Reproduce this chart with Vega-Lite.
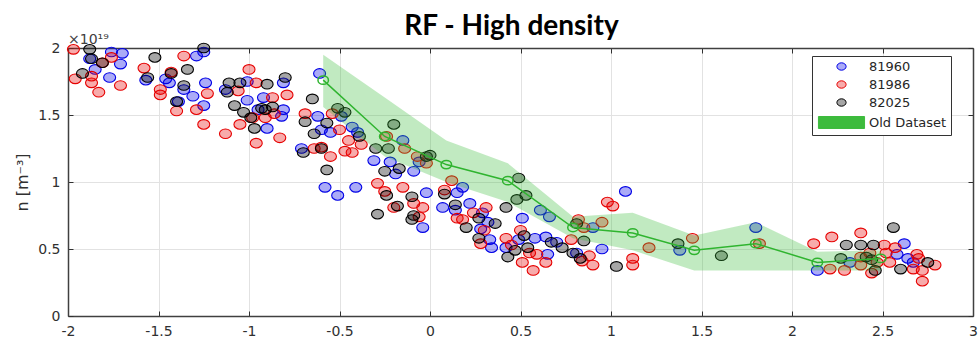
{
  "$schema": "https://vega.github.io/schema/vega-lite/v6.json",
  "width": 905,
  "height": 268,
  "autosize": {"type": "none"},
  "padding": {"left": 68, "top": 48, "right": 7, "bottom": 24},
  "background": "white",
  "title": {"text": "RF - High density", "font": "Lato", "fontSize": 28, "fontWeight": "bold", "color": "#000000", "anchor": "middle", "frame": "group", "baseline": "alphabetic", "offset": -30, "dx": -9},
  "config": {
    "view": {"stroke": null},
    "axis": {"labelFont": "DejaVu Sans", "labelFontSize": 14, "labelColor": "#303030", "domainColor": "#404040", "domainWidth": 1.5, "tickColor": "#303030", "tickWidth": 1, "gridColor": "#e2e2e2", "gridWidth": 1, "labelFlush": false, "titleFont": "DejaVu Sans", "titleFontWeight": "normal", "titleFontSize": 16, "titleColor": "#303030"}
  },
  "datasets": {
    "pts": [
      {"s":"81960","x":-1.76,"y":1.97},{"s":"81960","x":-1.70,"y":1.96},{"s":"81960","x":-1.88,"y":1.92},{"s":"81960","x":-1.71,"y":1.88},{"s":"81960","x":-1.85,"y":1.84},{"s":"81960","x":-1.77,"y":1.78},{"s":"81960","x":-1.57,"y":1.76},{"s":"81960","x":-1.29,"y":1.94},{"s":"81960","x":-1.25,"y":1.97},{"s":"81960","x":-1.46,"y":1.77},{"s":"81960","x":-1.44,"y":1.74},{"s":"81960","x":-1.36,"y":1.69},{"s":"81960","x":-1.31,"y":1.64},{"s":"81960","x":-1.39,"y":1.60},{"s":"81960","x":-1.25,"y":1.57},{"s":"81960","x":-1.24,"y":1.74},{"s":"81960","x":-1.13,"y":1.69},{"s":"81960","x":-1.01,"y":1.75},{"s":"81960","x":-1.01,"y":1.61},{"s":"81960","x":-0.92,"y":1.63},{"s":"81960","x":-0.81,"y":1.74},{"s":"81960","x":-0.95,"y":1.54},{"s":"81960","x":-0.90,"y":1.40},{"s":"81960","x":-0.81,"y":1.54},{"s":"81960","x":-0.82,"y":1.49},{"s":"81960","x":-0.61,"y":1.81},{"s":"81960","x":-0.62,"y":1.49},{"s":"81960","x":-0.60,"y":1.39},{"s":"81960","x":-0.55,"y":1.37},{"s":"81960","x":-0.71,"y":1.25},{"s":"81960","x":-0.49,"y":1.49},{"s":"81960","x":-0.43,"y":1.41},{"s":"81960","x":-0.40,"y":1.37},{"s":"81960","x":-0.58,"y":0.96},{"s":"81960","x":-0.51,"y":0.90},{"s":"81960","x":-0.41,"y":0.96},{"s":"81960","x":-0.31,"y":1.16},{"s":"81960","x":-0.22,"y":1.15},{"s":"81960","x":-0.19,"y":1.06},{"s":"81960","x":-0.15,"y":1.31},{"s":"81960","x":-0.09,"y":1.08},{"s":"81960","x":-0.06,"y":1.15},{"s":"81960","x":-0.02,"y":0.92},{"s":"81960","x":-0.04,"y":0.66},{"s":"81960","x":0.15,"y":0.92},{"s":"81960","x":0.18,"y":0.96},{"s":"81960","x":0.07,"y":0.81},{"s":"81960","x":0.14,"y":0.79},{"s":"81960","x":0.22,"y":0.84},{"s":"81960","x":0.29,"y":0.77},{"s":"81960","x":0.32,"y":0.70},{"s":"81960","x":0.28,"y":0.65},{"s":"81960","x":0.33,"y":0.57},{"s":"81960","x":0.34,"y":0.51},{"s":"81960","x":0.51,"y":0.73},{"s":"81960","x":0.49,"y":0.57},{"s":"81960","x":0.42,"y":0.51},{"s":"81960","x":0.58,"y":0.58},{"s":"81960","x":0.64,"y":0.59},{"s":"81960","x":0.70,"y":0.55},{"s":"81960","x":0.65,"y":0.46},{"s":"81960","x":0.61,"y":0.79},{"s":"81960","x":0.66,"y":0.74},{"s":"81960","x":0.81,"y":0.47},{"s":"81960","x":0.90,"y":0.66},{"s":"81960","x":0.95,"y":0.50},{"s":"81960","x":1.08,"y":0.93},{"s":"81960","x":1.38,"y":0.49},{"s":"81960","x":1.80,"y":0.66},{"s":"81960","x":2.14,"y":0.34},{"s":"81960","x":2.32,"y":0.40},{"s":"81960","x":2.62,"y":0.54},{"s":"81960","x":2.58,"y":0.46},{"s":"81960","x":2.64,"y":0.43},{"s":"81960","x":2.67,"y":0.40},
      {"s":"81986","x":-1.97,"y":1.99},{"s":"81986","x":-1.81,"y":1.89},{"s":"81986","x":-1.76,"y":1.93},{"s":"81986","x":-1.96,"y":1.77},{"s":"81986","x":-1.87,"y":1.79},{"s":"81986","x":-1.87,"y":1.74},{"s":"81986","x":-1.83,"y":1.67},{"s":"81986","x":-1.71,"y":1.72},{"s":"81986","x":-1.58,"y":1.85},{"s":"81986","x":-1.36,"y":1.94},{"s":"81986","x":-1.43,"y":1.82},{"s":"81986","x":-1.49,"y":1.69},{"s":"81986","x":-1.49,"y":1.65},{"s":"81986","x":-1.40,"y":1.53},{"s":"81986","x":-1.29,"y":1.54},{"s":"81986","x":-1.23,"y":1.66},{"s":"81986","x":-1.25,"y":1.43},{"s":"81986","x":-1.13,"y":1.36},{"s":"81986","x":-1.06,"y":1.68},{"s":"81986","x":-1.00,"y":1.84},{"s":"81986","x":-0.98,"y":1.48},{"s":"81986","x":-1.05,"y":1.43},{"s":"81986","x":-0.96,"y":1.29},{"s":"81986","x":-0.96,"y":1.74},{"s":"81986","x":-0.79,"y":1.65},{"s":"81986","x":-0.87,"y":1.63},{"s":"81986","x":-0.91,"y":1.48},{"s":"81986","x":-0.83,"y":1.33},{"s":"81986","x":-0.86,"y":1.51},{"s":"81986","x":-0.69,"y":1.51},{"s":"81986","x":-0.50,"y":1.39},{"s":"81986","x":-0.45,"y":1.31},{"s":"81986","x":-0.60,"y":1.26},{"s":"81986","x":-0.64,"y":1.25},{"s":"81986","x":-0.55,"y":1.19},{"s":"81986","x":-0.47,"y":1.23},{"s":"81986","x":-0.43,"y":1.22},{"s":"81986","x":-0.38,"y":1.28},{"s":"81986","x":-0.54,"y":1.51},{"s":"81986","x":-0.24,"y":1.34},{"s":"81986","x":-0.14,"y":1.25},{"s":"81986","x":-0.07,"y":1.19},{"s":"81986","x":-0.29,"y":0.99},{"s":"81986","x":-0.25,"y":0.93},{"s":"81986","x":-0.15,"y":0.96},{"s":"81986","x":-0.20,"y":0.81},{"s":"81986","x":-0.09,"y":0.84},{"s":"81986","x":-0.04,"y":0.81},{"s":"81986","x":-0.06,"y":0.74},{"s":"81986","x":-0.02,"y":1.14},{"s":"81986","x":0.12,"y":1.01},{"s":"81986","x":0.08,"y":0.94},{"s":"81986","x":0.31,"y":0.81},{"s":"81986","x":0.15,"y":0.73},{"s":"81986","x":0.18,"y":0.72},{"s":"81986","x":0.24,"y":0.77},{"s":"81986","x":0.30,"y":0.64},{"s":"81986","x":0.28,"y":0.54},{"s":"81986","x":0.42,"y":0.58},{"s":"81986","x":0.50,"y":0.64},{"s":"81986","x":0.45,"y":0.53},{"s":"81986","x":0.51,"y":0.40},{"s":"81986","x":0.57,"y":0.34},{"s":"81986","x":0.59,"y":0.46},{"s":"81986","x":0.64,"y":0.40},{"s":"81986","x":0.55,"y":0.47},{"s":"81986","x":0.82,"y":0.72},{"s":"81986","x":0.85,"y":0.66},{"s":"81986","x":0.95,"y":0.70},{"s":"81986","x":0.78,"y":0.57},{"s":"81986","x":0.84,"y":0.41},{"s":"81986","x":0.88,"y":0.45},{"s":"81986","x":0.90,"y":0.38},{"s":"81986","x":0.98,"y":0.85},{"s":"81986","x":1.01,"y":0.82},{"s":"81986","x":1.12,"y":0.43},{"s":"81986","x":1.12,"y":0.38},{"s":"81986","x":1.21,"y":0.51},{"s":"81986","x":1.45,"y":0.58},{"s":"81986","x":1.82,"y":0.54},{"s":"81986","x":2.12,"y":0.54},{"s":"81986","x":2.22,"y":0.59},{"s":"81986","x":2.38,"y":0.62},{"s":"81986","x":2.51,"y":0.53},{"s":"81986","x":2.57,"y":0.51},{"s":"81986","x":2.38,"y":0.44},{"s":"81986","x":2.43,"y":0.47},{"s":"81986","x":2.47,"y":0.40},{"s":"81986","x":2.52,"y":0.47},{"s":"81986","x":2.54,"y":0.40},{"s":"81986","x":2.69,"y":0.46},{"s":"81986","x":2.70,"y":0.43},{"s":"81986","x":2.79,"y":0.38},{"s":"81986","x":2.72,"y":0.34},{"s":"81986","x":2.67,"y":0.35},{"s":"81986","x":2.72,"y":0.26},{"s":"81986","x":2.21,"y":0.35},{"s":"81986","x":2.29,"y":0.34},{"s":"81986","x":2.38,"y":0.38},{"s":"81986","x":2.44,"y":0.32},
      {"s":"82025","x":-1.88,"y":1.99},{"s":"82025","x":-1.87,"y":1.92},{"s":"82025","x":-1.81,"y":1.89},{"s":"82025","x":-1.92,"y":1.81},{"s":"82025","x":-1.52,"y":1.93},{"s":"82025","x":-1.56,"y":1.78},{"s":"82025","x":-1.25,"y":2.00},{"s":"82025","x":-1.34,"y":1.84},{"s":"82025","x":-1.43,"y":1.81},{"s":"82025","x":-1.36,"y":1.72},{"s":"82025","x":-1.40,"y":1.60},{"s":"82025","x":-1.11,"y":1.74},{"s":"82025","x":-1.12,"y":1.67},{"s":"82025","x":-1.05,"y":1.74},{"s":"82025","x":-1.08,"y":1.57},{"s":"82025","x":-1.03,"y":1.52},{"s":"82025","x":-0.99,"y":1.48},{"s":"82025","x":-0.97,"y":1.40},{"s":"82025","x":-0.90,"y":1.73},{"s":"82025","x":-0.80,"y":1.78},{"s":"82025","x":-0.93,"y":1.55},{"s":"82025","x":-0.91,"y":1.54},{"s":"82025","x":-0.87,"y":1.56},{"s":"82025","x":-0.65,"y":1.62},{"s":"82025","x":-0.69,"y":1.45},{"s":"82025","x":-0.57,"y":1.44},{"s":"82025","x":-0.64,"y":1.36},{"s":"82025","x":-0.60,"y":1.25},{"s":"82025","x":-0.70,"y":1.22},{"s":"82025","x":-0.51,"y":1.55},{"s":"82025","x":-0.47,"y":1.52},{"s":"82025","x":-0.39,"y":1.34},{"s":"82025","x":-0.57,"y":1.09},{"s":"82025","x":-0.20,"y":1.43},{"s":"82025","x":-0.30,"y":1.25},{"s":"82025","x":-0.23,"y":1.25},{"s":"82025","x":-0.25,"y":1.08},{"s":"82025","x":-0.17,"y":1.10},{"s":"82025","x":-0.24,"y":0.90},{"s":"82025","x":-0.18,"y":0.82},{"s":"82025","x":-0.29,"y":0.76},{"s":"82025","x":-0.10,"y":0.89},{"s":"82025","x":-0.09,"y":0.75},{"s":"82025","x":-0.10,"y":0.72},{"s":"82025","x":-0.02,"y":1.19},{"s":"82025","x":0.00,"y":1.20},{"s":"82025","x":0.08,"y":0.91},{"s":"82025","x":0.14,"y":0.83},{"s":"82025","x":0.20,"y":0.66},{"s":"82025","x":0.27,"y":0.73},{"s":"82025","x":0.36,"y":0.69},{"s":"82025","x":0.27,"y":0.58},{"s":"82025","x":0.42,"y":0.81},{"s":"82025","x":0.48,"y":0.87},{"s":"82025","x":0.53,"y":0.90},{"s":"82025","x":0.49,"y":1.03},{"s":"82025","x":0.52,"y":0.60},{"s":"82025","x":0.47,"y":0.49},{"s":"82025","x":0.43,"y":0.44},{"s":"82025","x":0.67,"y":0.55},{"s":"82025","x":0.73,"y":0.51},{"s":"82025","x":0.54,"y":0.51},{"s":"82025","x":0.81,"y":0.69},{"s":"82025","x":0.85,"y":0.56},{"s":"82025","x":0.79,"y":0.47},{"s":"82025","x":0.83,"y":0.43},{"s":"82025","x":1.03,"y":0.37},{"s":"82025","x":1.37,"y":0.54},{"s":"82025","x":1.61,"y":0.45},{"s":"82025","x":2.56,"y":0.66},{"s":"82025","x":2.30,"y":0.53},{"s":"82025","x":2.38,"y":0.53},{"s":"82025","x":2.45,"y":0.53},{"s":"82025","x":2.27,"y":0.43},{"s":"82025","x":2.44,"y":0.42},{"s":"82025","x":2.41,"y":0.44},{"s":"82025","x":2.75,"y":0.40},{"s":"82025","x":2.60,"y":0.35},{"s":"82025","x":2.46,"y":0.34}
    ],
    "old": [
      {"x":-0.59,"y":1.76,"lo":1.56,"hi":1.95},
      {"x":-0.25,"y":1.34,"lo":1.19,"hi":1.63},
      {"x":0.09,"y":1.13,"lo":1.00,"hi":1.31},
      {"x":0.43,"y":1.01,"lo":0.85,"hi":1.14},
      {"x":0.79,"y":0.66,"lo":0.58,"hi":0.74},
      {"x":1.12,"y":0.62,"lo":0.49,"hi":0.77},
      {"x":1.46,"y":0.49,"lo":0.34,"hi":0.60},
      {"x":1.80,"y":0.54,"lo":0.34,"hi":0.70},
      {"x":2.14,"y":0.40,"lo":0.34,"hi":0.48},
      {"x":2.49,"y":0.43,"lo":0.34,"hi":0.49}
    ],
    "note": [{"label": "×10¹⁹"}]
  },
  "resolve": {"axis": {"x": "independent", "y": "independent"}},
  "layer": [
    {
      "data": {"name": "pts"},
      "mark": {"type": "point", "size": 144, "strokeWidth": 1.1, "opacity": 1},
      "encoding": {
        "x": {"field": "x", "type": "quantitative", "scale": {"domain": [-2, 3], "nice": false, "zero": false},
              "axis": {"orient": "bottom", "title": null, "values": [-2, -1.5, -1, -0.5, 0, 0.5, 1, 1.5, 2, 2.5, 3], "labelExpr": "'' + datum.value", "grid": true, "tickSize": -5, "labelPadding": 13}},
        "y": {"field": "y", "type": "quantitative", "scale": {"domain": [0, 2], "nice": false, "zero": false},
              "axis": {"orient": "left", "title": "n [m⁻³]", "values": [0, 0.5, 1, 1.5, 2], "labelExpr": "'' + datum.value", "grid": true, "tickSize": -5, "labelPadding": 13, "titlePadding": 7}},
        "fill": {"field": "s", "type": "nominal", "scale": {"domain": ["81960", "81986", "82025", "Old Dataset"], "range": ["rgba(0,0,230,0.33)", "rgba(230,0,0,0.33)", "rgba(0,0,0,0.35)", "#3dbb3d"]},
                 "legend": {"title": null, "orient": "none", "legendX": 744, "legendY": 8, "strokeColor": "#333333", "fillColor": "#ffffff", "padding": 4, "symbolSize": 85, "symbolOffset": 19, "labelOffset": 21, "labelFont": "DejaVu Sans", "labelFontSize": 13, "labelColor": "#262626", "rowPadding": 4, "symbolStrokeWidth": 1}},
        "stroke": {"field": "s", "type": "nominal", "scale": {"domain": ["81960", "81986", "82025", "Old Dataset"], "range": ["#0000e6", "#e60000", "#000000", "#3dbb3d"]},
                 "legend": {"title": null, "orient": "none", "legendX": 744, "legendY": 8, "strokeColor": "#333333", "fillColor": "#ffffff", "padding": 4, "symbolSize": 85, "symbolOffset": 19, "labelOffset": 21, "labelFont": "DejaVu Sans", "labelFontSize": 13, "labelColor": "#262626", "rowPadding": 4, "symbolStrokeWidth": 1}},
        "shape": {"field": "s", "type": "nominal", "scale": {"domain": ["81960", "81986", "82025", "Old Dataset"], "range": ["M-1,0A1,0.8,0,1,1,1,0A1,0.8,0,1,1,-1,0Z", "M-1,0A1,0.8,0,1,1,1,0A1,0.8,0,1,1,-1,0Z", "M-1,0A1,0.8,0,1,1,1,0A1,0.8,0,1,1,-1,0Z", "M-5,-1.3H5V1.3H-5Z"]},
                 "legend": {"title": null, "orient": "none", "legendX": 744, "legendY": 8, "strokeColor": "#333333", "fillColor": "#ffffff", "padding": 4, "symbolSize": 85, "symbolOffset": 19, "labelOffset": 21, "labelFont": "DejaVu Sans", "labelFontSize": 13, "labelColor": "#262626", "rowPadding": 4, "symbolStrokeWidth": 1}}
      }
    },
    {
      "data": {"name": "old"},
      "mark": {"type": "area", "color": "#33bb33", "opacity": 0.3},
      "encoding": {
        "x": {"field": "x", "type": "quantitative", "axis": null},
        "y": {"field": "hi", "type": "quantitative", "axis": null},
        "y2": {"field": "lo"}
      }
    },
    {
      "data": {"name": "old"},
      "mark": {"type": "line", "color": "#2fb42f", "strokeWidth": 1.5},
      "encoding": {
        "x": {"field": "x", "type": "quantitative", "axis": null},
        "y": {"field": "y", "type": "quantitative", "axis": null}
      }
    },
    {
      "data": {"name": "old"},
      "mark": {"type": "point", "shape": "M-1,0A1,0.8,0,1,1,1,0A1,0.8,0,1,1,-1,0Z", "size": 110, "filled": false, "color": "#2fb42f", "strokeWidth": 1.5, "opacity": 1},
      "encoding": {
        "x": {"field": "x", "type": "quantitative", "axis": null},
        "y": {"field": "y", "type": "quantitative", "axis": null}
      }
    },
    {
      "data": {"name": "note"},
      "mark": {"type": "text", "align": "left", "baseline": "bottom", "dy": -1, "font": "DejaVu Sans", "fontSize": 14, "color": "#404040"},
      "encoding": {
        "text": {"field": "label"},
        "x": {"datum": -2, "type": "quantitative", "axis": null},
        "y": {"datum": 2, "type": "quantitative", "axis": null}
      }
    },
    {
      "data": {"name": "old"},
      "mark": {"type": "point", "opacity": 0},
      "encoding": {
        "x": {"field": "x", "type": "quantitative", "axis": {"orient": "top", "title": null, "labels": false, "grid": false, "values": [-2, -1.5, -1, -0.5, 0, 0.5, 1, 1.5, 2, 2.5, 3], "tickSize": -5}},
        "y": {"field": "y", "type": "quantitative", "axis": {"orient": "right", "title": null, "labels": false, "grid": false, "values": [0, 0.5, 1, 1.5, 2], "tickSize": -5}}
      }
    }
  ]
}
